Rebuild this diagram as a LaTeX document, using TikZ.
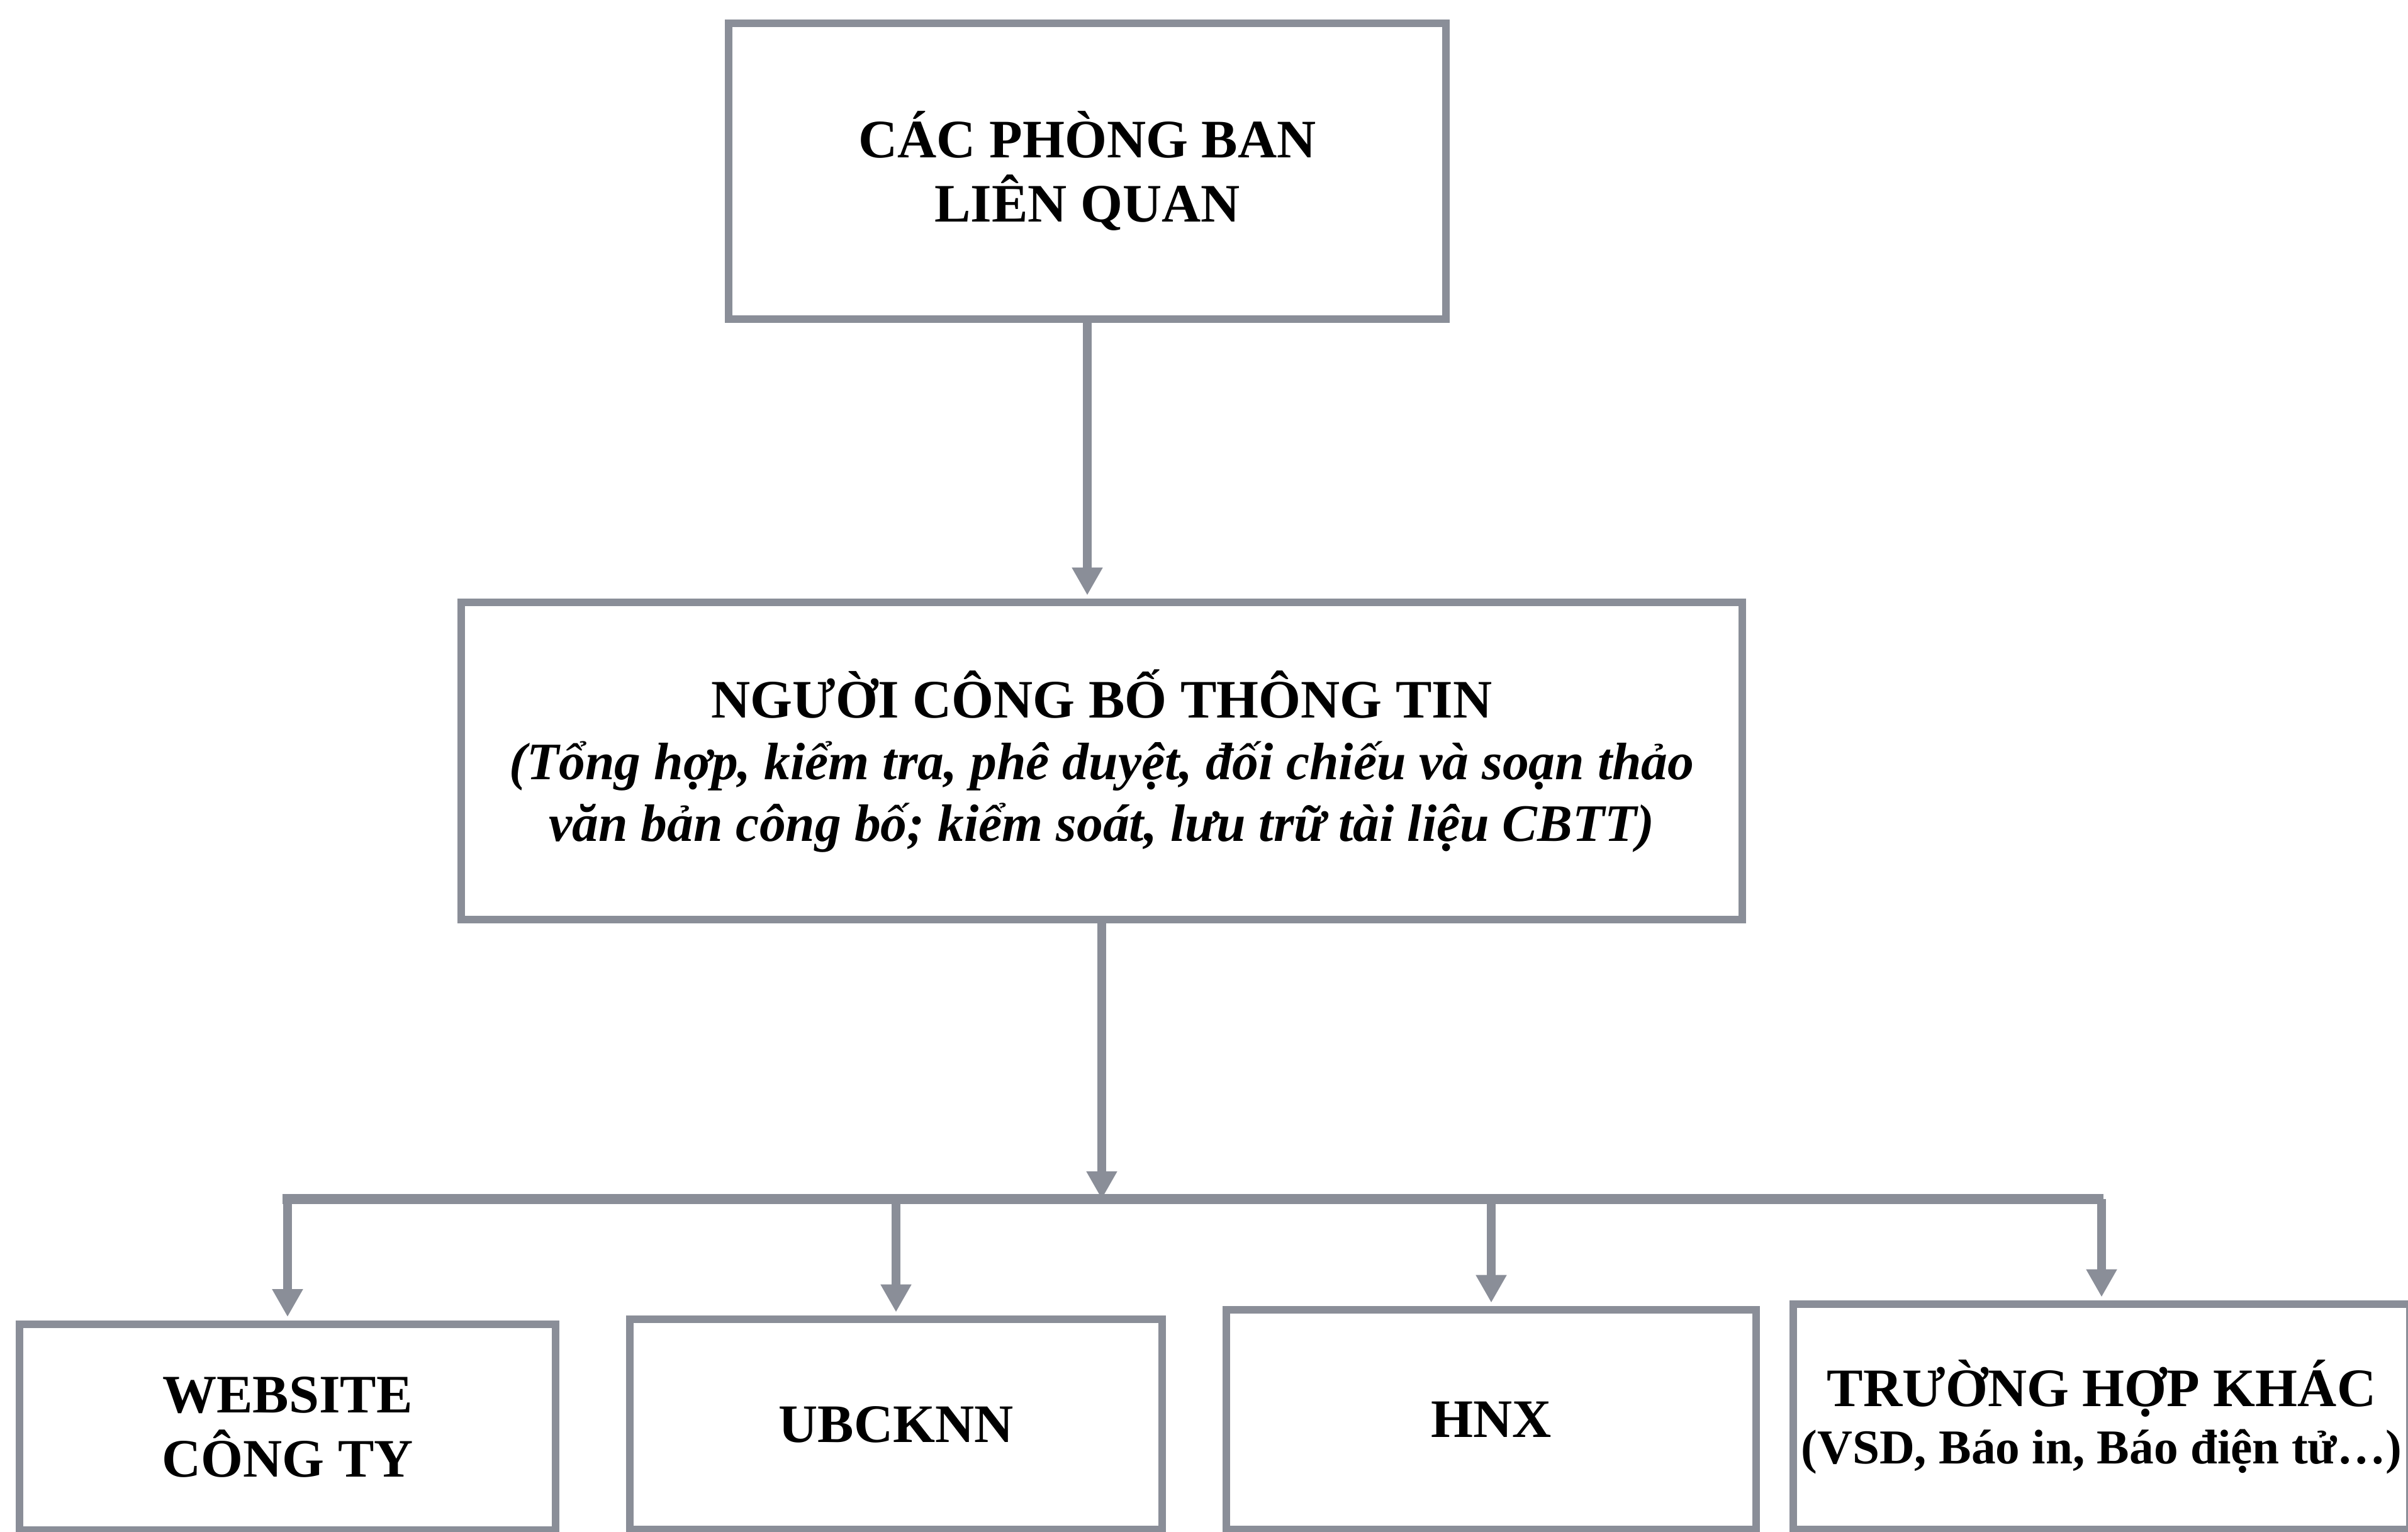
\documentclass[tikz,border=0pt]{standalone}
\usepackage{fontspec}
\setmainfont{Liberation Serif}
\usetikzlibrary{arrows.meta}
\definecolor{linegray}{RGB}{138,142,152}

\begin{document}
\begin{tikzpicture}[-,>={Triangle[width=0.46cm,length=0.44cm]},shorten >=1.5pt,
    box/.style={draw=linegray,line width=0.12cm,align=center,inner sep=0pt,font=\bfseries\fontsize{24.5}{29}\selectfont},
    link/.style={draw=linegray,line width=0.14cm}]
    \clip (0,0) rectangle (38.27,-24.34);

    \node[box,minimum width=11.4cm,minimum height=4.7cm] (top) at (17.28,-2.72) {CÁC PHÒNG BAN\\LIÊN QUAN};
    \node[box,minimum width=20.36cm,minimum height=5.04cm,font=\bfseries\fontsize{24.5}{28}\selectfont] (mid) at (17.51,-12.09)
        {NGƯỜI CÔNG BỐ THÔNG TIN\\{\fontsize{23.8}{28}\selectfont\itshape(Tổng hợp, kiểm tra, phê duyệt, đối chiếu và soạn thảo}\\{\fontsize{23.8}{28}\selectfont\itshape văn bản công bố; kiểm soát, lưu trữ tài liệu CBTT)}};

    \node[box,minimum width=8.52cm,minimum height=3.27cm] (web) at (4.57,-22.67) {WEBSITE\\CÔNG TY};
    \node[box,minimum width=8.46cm,minimum height=3.34cm] (ubck) at (14.24,-22.63) {UBCKNN};
    \node[box,minimum width=8.42cm,minimum height=3.49cm] (hnx) at (23.70,-22.555) {HNX};
    \node[box,minimum width=9.8cm,minimum height=3.58cm] (other) at (33.4,-22.51)
        {TRƯỜNG HỢP KHÁC\\[-3pt]{\fontsize{22}{26}\selectfont(VSD, Báo in, Báo điện tử…)}};

    \coordinate (bus) at (0,-19.05);

    \path[every edge/.style={link,->}]
        (top.south) edge (top.south |- mid.north)
        (mid.south) edge [shorten >=0pt] (mid.south |- bus)
        (web.north |- bus) edge (web.north)
        (ubck.north |- bus) edge (ubck.north)
        (hnx.north |- bus) edge (hnx.north)
        (other.north |- bus) edge (other.north)
        ;
    \draw[link,line width=0.16cm,line cap=rect] (web.north |- bus) -- (other.north |- bus);
\end{tikzpicture}
\end{document}
